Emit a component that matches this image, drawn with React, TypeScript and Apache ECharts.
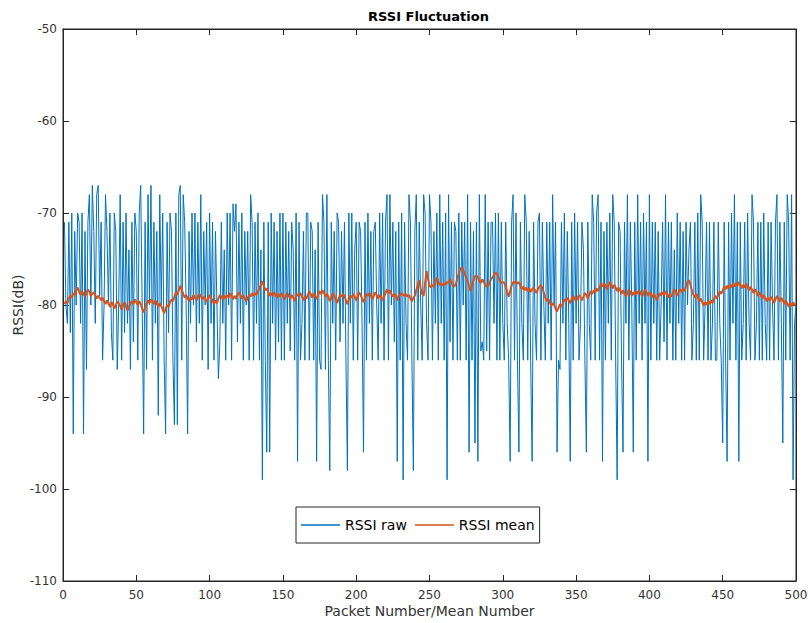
import React, { useEffect, useRef } from "react";
import * as echarts from "echarts";

const titleText = "RSSI Fluctuation";
const xAxisName = "Packet Number/Mean Number";
const yAxisName = "RSSI(dB)";
const seriesNames = ["RSSI raw", "RSSI mean"];
const xTicks = { min: 0, max: 500, interval: 50 };
const yTicks = { min: -110, max: -50, interval: 10 };

const rawRssi: number[] = [
  -71,-80,-82,-71,-83,-70,-94,-72,-80,-70,
  -71,-82,-70,-94,-72,-87,-71,-68,-80,-67,
  -72,-82,-68,-67,-79,-71,-86,-80,-68,-72,
  -80,-70,-83,-86,-70,-72,-87,-80,-68,-86,
  -71,-83,-70,-82,-74,-87,-71,-84,-70,-72,
  -86,-70,-67,-80,-94,-71,-87,-68,-80,-67,
  -86,-71,-82,-72,-92,-68,-80,-70,-86,-94,
  -71,-83,-70,-72,-86,-93,-70,-93,-68,-67,
  -86,-68,-71,-80,-94,-72,-82,-70,-80,-70,
  -84,-71,-82,-68,-86,-72,-80,-71,-87,-70,
  -82,-71,-86,-72,-80,-88,-84,-71,-82,-74,
  -86,-70,-80,-70,-86,-69,-72,-69,-84,-71,
  -82,-70,-86,-72,-80,-72,-86,-68,-71,-86,
  -71,-82,-70,-86,-74,-99,-71,-86,-96,-71,
  -96,-70,-82,-71,-86,-72,-84,-70,-86,-70,
  -86,-71,-82,-72,-85,-71,-74,-86,-70,-97,
  -71,-86,-82,-72,-86,-70,-70,-86,-71,-72,
  -86,-74,-97,-71,-86,-87,-68,-71,-87,-68,
  -86,-98,-71,-82,-72,-86,-70,-71,-84,-72,
  -82,-71,-86,-98,-70,-82,-70,-86,-74,-71,
  -86,-71,-72,-82,-96,-71,-86,-70,-82,-72,
  -86,-72,-71,-80,-86,-70,-82,-70,-86,-71,
  -68,-86,-68,-80,-71,-84,-72,-97,-71,-86,
  -70,-99,-71,-82,-86,-68,-71,-86,-98,-72,
  -68,-86,-71,-80,-86,-68,-70,-82,-86,-68,
  -71,-86,-72,-82,-70,-86,-68,-82,-71,-86,
  -70,-99,-68,-84,-71,-86,-71,-72,-86,-70,
  -86,-71,-80,-71,-86,-68,-96,-71,-86,-72,
  -95,-71,-97,-68,-85,-84,-86,-68,-85,-71,
  -86,-71,-71,-82,-70,-86,-70,-86,-71,-82,
  -86,-71,-82,-86,-97,-71,-68,-86,-70,-86,
  -96,-71,-82,-86,-68,-71,-86,-72,-86,-97,
  -71,-82,-86,-71,-70,-86,-71,-80,-86,-71,
  -82,-71,-86,-68,-80,-71,-96,-86,-87,-71,
  -82,-70,-86,-72,-82,-97,-71,-86,-70,-82,
  -71,-86,-82,-71,-74,-86,-96,-71,-82,-86,
  -68,-71,-86,-70,-68,-86,-71,-97,-72,-86,
  -71,-82,-70,-86,-68,-71,-86,-99,-71,-72,
  -86,-96,-71,-82,-68,-86,-71,-80,-96,-71,
  -86,-68,-82,-71,-86,-70,-82,-71,-97,-68,
  -86,-71,-82,-71,-86,-72,-86,-80,-71,-84,
  -68,-86,-71,-82,-71,-86,-74,-86,-70,-82,
  -71,-86,-72,-86,-71,-80,-74,-71,-86,-82,
  -71,-86,-70,-86,-68,-71,-86,-80,-71,-86,
  -71,-86,-82,-71,-86,-86,-71,-82,-86,-95,
  -71,-86,-97,-71,-86,-70,-82,-68,-86,-71,
  -97,-71,-86,-82,-71,-86,-70,-82,-86,-68,
  -71,-86,-82,-71,-86,-71,-86,-70,-82,-86,
  -71,-86,-71,-80,-86,-71,-68,-86,-71,-82,
  -95,-71,-86,-68,-71,-86,-68,-99,-82,-80,
];

const meanRssi: number[] = [
  -79.9,-79.6,-79.8,-79.3,-79.0,-79.2,-78.7,-78.9,-78.4,-78.1,-78.6,-78.9,-78.5,-78.8,-79.1,-78.7,-78.3,-78.6,-79.0,-78.8,
  -78.6,-78.9,-79.3,-79.0,-79.2,-79.5,-79.2,-79.6,-79.9,-79.5,-79.8,-80.2,-79.7,-79.9,-80.4,-80.0,-79.6,-79.8,-80.1,-80.5,
  -80.0,-79.7,-80.1,-80.6,-80.2,-79.8,-79.6,-79.9,-79.4,-79.7,-80.0,-79.6,-79.9,-80.4,-80.8,-80.3,-79.9,-79.5,-79.8,-79.4,
  -79.6,-79.9,-79.5,-79.8,-80.2,-79.8,-80.1,-80.5,-80.9,-80.4,-80.0,-80.2,-79.7,-79.4,-79.6,-79.1,-78.6,-78.9,-78.4,-77.9,
  -78.3,-78.8,-79.2,-78.9,-79.3,-79.6,-79.2,-79.4,-78.9,-79.2,-79.5,-79.1,-78.8,-79.0,-79.4,-79.1,-79.3,-79.7,-79.3,-78.9,
  -79.2,-79.5,-79.9,-79.5,-79.8,-79.3,-78.9,-79.1,-79.4,-79.0,-79.3,-78.9,-79.2,-78.7,-79.0,-79.4,-79.0,-79.3,-78.9,-78.6,
  -78.9,-79.3,-79.0,-79.3,-79.6,-79.2,-78.9,-79.1,-78.7,-79.0,-78.7,-78.9,-78.5,-78.2,-77.8,-77.4,-77.9,-78.4,-78.2,-78.6,
  -79.0,-78.7,-79.0,-78.6,-78.9,-79.2,-78.8,-79.1,-78.7,-79.0,-79.4,-79.0,-78.7,-79.0,-79.3,-78.9,-79.2,-79.6,-79.1,-78.8,
  -79.0,-78.7,-79.1,-79.5,-79.1,-79.3,-78.9,-78.5,-78.8,-79.2,-78.8,-79.0,-79.4,-78.9,-78.5,-78.8,-78.4,-78.7,-79.1,-78.8,
  -79.1,-79.6,-79.2,-78.7,-79.0,-79.4,-79.8,-79.3,-78.9,-79.1,-78.8,-79.0,-79.5,-79.9,-79.4,-79.0,-79.2,-78.8,-79.1,-79.5,
  -79.1,-78.6,-78.9,-79.3,-79.7,-79.2,-78.8,-79.0,-78.7,-79.0,-79.4,-79.0,-78.6,-78.9,-79.3,-78.9,-79.1,-79.5,-79.1,-78.7,
  -78.3,-78.7,-78.4,-78.8,-79.1,-78.8,-79.0,-79.5,-79.0,-78.9,-78.7,-78.9,-79.0,-78.8,-79.1,-78.9,-79.3,-79.6,-79.2,-79.0,
  -78.4,-77.8,-77.3,-78.2,-78.8,-79.0,-77.6,-76.3,-77.2,-77.9,-78.1,-77.8,-78.0,-77.6,-77.0,-77.5,-77.8,-77.7,-77.9,-77.6,
  -77.8,-77.5,-77.6,-77.2,-77.5,-77.9,-78.0,-77.7,-77.1,-76.6,-76.1,-75.9,-76.2,-76.6,-77.0,-77.4,-78.0,-78.5,-77.9,-77.3,
  -76.9,-76.8,-77.0,-77.4,-77.6,-77.2,-77.5,-77.8,-78.0,-77.9,-77.6,-77.2,-77.0,-76.7,-76.5,-76.6,-77.0,-77.4,-77.6,-77.5,
  -77.6,-78.0,-78.6,-79.1,-78.5,-77.9,-77.5,-77.6,-77.4,-77.7,-77.5,-77.9,-78.3,-78.0,-78.4,-78.1,-78.5,-78.2,-78.6,-78.3,
  -78.1,-78.4,-78.7,-78.3,-78.0,-77.8,-78.2,-78.7,-79.2,-79.6,-79.3,-79.7,-80.1,-79.8,-80.0,-80.4,-80.7,-80.3,-79.9,-80.2,
  -79.8,-79.4,-79.6,-79.2,-79.5,-79.8,-79.4,-79.0,-79.3,-79.6,-79.2,-78.9,-79.2,-79.5,-79.1,-78.7,-78.9,-79.3,-78.9,-78.5,
  -78.8,-78.4,-78.6,-78.2,-78.5,-78.1,-77.7,-78.0,-77.6,-77.9,-78.3,-77.9,-77.5,-77.8,-78.2,-77.8,-78.1,-78.5,-78.1,-78.4,
  -78.8,-78.4,-78.7,-79.1,-78.7,-78.3,-78.6,-79.0,-78.6,-78.9,-78.5,-78.8,-78.4,-78.7,-79.1,-78.7,-78.3,-78.6,-79.0,-78.6,
  -78.8,-79.2,-78.8,-79.1,-79.5,-79.1,-78.7,-79.0,-78.6,-78.9,-78.5,-78.8,-79.2,-78.8,-79.1,-78.7,-78.3,-78.6,-79.0,-78.6,
  -78.3,-78.6,-78.2,-78.5,-77.9,-77.5,-77.3,-77.8,-78.4,-78.9,-79.2,-78.8,-79.1,-79.6,-79.3,-79.7,-80.1,-79.7,-80.0,-79.6,
  -79.9,-79.5,-79.8,-79.4,-79.0,-79.3,-78.9,-78.5,-78.8,-78.4,-78.0,-78.3,-77.9,-78.2,-77.8,-78.1,-77.7,-78.0,-77.6,-77.9,
  -77.5,-77.8,-78.2,-77.8,-78.1,-77.7,-78.0,-78.4,-78.0,-78.3,-78.7,-78.3,-78.6,-79.0,-78.6,-78.9,-79.3,-78.9,-79.2,-79.6,
  -79.2,-79.5,-79.1,-79.4,-79.8,-79.4,-79.0,-79.3,-79.6,-79.2,-79.5,-79.9,-79.5,-79.8,-80.2,-79.8,-80.1,-79.7,-80.0,-79.9,
];

const FONT = "DejaVu Sans";
const AXIS_COLOR = "#262626";
const LABEL_COLOR = "#333333";

export default function App() {
  const ref = useRef<HTMLDivElement>(null);

  useEffect(() => {
    if (!ref.current) return;
    const chart = echarts.init(ref.current, undefined, { renderer: "svg" });

    const rawData = rawRssi.map((v, i) => [i + 1, v]);
    const meanData = meanRssi.map((v, i) => [i + 1, v]);

    const tickCommon = {
      axisTick: { show: true, inside: true, length: 6, lineStyle: { color: AXIS_COLOR, width: 1 } },
      axisLine: { show: true, onZero: false, lineStyle: { color: AXIS_COLOR, width: 1 } },
      splitLine: { show: false },
    };

    chart.setOption({
      animation: false,
      backgroundColor: "#ffffff",
      title: {
        text: titleText,
        left: 363,
        top: 5,
        textStyle: { fontFamily: FONT, fontSize: 13, fontWeight: "bold", color: "#000000" },
      },
      legend: {
        data: seriesNames,
        left: 296,
        top: 507,
        orient: "horizontal",
        icon: "rect",
        itemWidth: 39,
        itemHeight: 1.5,
        itemGap: 8,
        padding: [11, 5, 11, 5],
        borderColor: AXIS_COLOR,
        borderWidth: 1,
        backgroundColor: "#ffffff",
        textStyle: { fontFamily: FONT, fontSize: 14, color: "#000000", padding: [0, 0, 0, 0] },
      },
      grid: {
        left: 63,
        right: 12,
        top: 29,
        bottom: 42,
        outerBoundsMode: "none",
        containLabel: false,
        show: true,
        borderColor: AXIS_COLOR,
        borderWidth: 1,
        backgroundColor: "#ffffff",
      },
      xAxis: [
        {
          type: "value",
          min: xTicks.min,
          max: xTicks.max,
          interval: xTicks.interval,
          position: "bottom",
          name: xAxisName,
          nameLocation: "middle",
          nameGap: 23,
          nameMoveOverlap: false,
          nameTextStyle: { fontFamily: FONT, fontSize: 14, color: LABEL_COLOR },
          axisLabel: { fontFamily: FONT, fontSize: 12, color: LABEL_COLOR, margin: 8 },
          ...tickCommon,
        },
        {
          type: "value",
          min: xTicks.min,
          max: xTicks.max,
          interval: xTicks.interval,
          position: "top",
          axisLabel: { show: false },
          ...tickCommon,
        },
      ],
      yAxis: [
        {
          type: "value",
          min: yTicks.min,
          max: yTicks.max,
          interval: yTicks.interval,
          position: "left",
          name: yAxisName,
          nameLocation: "middle",
          nameGap: 38,
          nameMoveOverlap: false,
          nameRotate: 90,
          nameTextStyle: { fontFamily: FONT, fontSize: 14, color: LABEL_COLOR },
          axisLabel: { fontFamily: FONT, fontSize: 12, color: LABEL_COLOR, margin: 6 },
          ...tickCommon,
        },
        {
          type: "value",
          min: yTicks.min,
          max: yTicks.max,
          interval: yTicks.interval,
          position: "right",
          axisLabel: { show: false },
          ...tickCommon,
        },
      ],
      series: [
        {
          name: seriesNames[0],
          type: "line",
          data: rawData,
          showSymbol: false,
          symbol: "none",
          color: "#0072BD",
          lineStyle: { color: "#0072BD", width: 1 },
          z: 2,
        },
        {
          name: seriesNames[1],
          type: "line",
          data: meanData,
          showSymbol: false,
          symbol: "none",
          color: "#D95319",
          lineStyle: { color: "#D95319", width: 2 },
          z: 3,
        },
      ],
    });

    return () => chart.dispose();
  }, []);

  return (
    <div
      ref={ref}
      style={{ position: "absolute", left: 0, top: 0, width: 808, height: 623 }}
    />
  );
}
